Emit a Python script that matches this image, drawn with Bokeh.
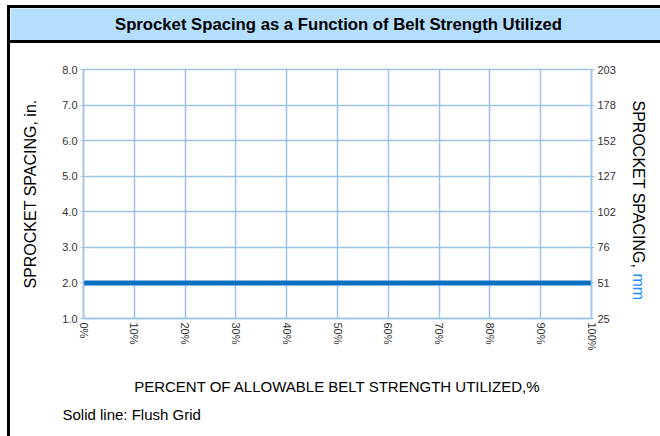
import math
from bokeh.plotting import figure
from bokeh.models import Range1d, FixedTicker, LinearAxis, Div
from bokeh.layouts import column, row
from bokeh.embed import file_html
from bokeh.resources import INLINE
from bokeh.core.properties import value

# ---- data ----
title_text = "Sprocket Spacing as a Function of Belt Strength Utilized"
x_ticks = [0, 10, 20, 30, 40, 50, 60, 70, 80, 90, 100]
x_labels = ["0%", "10%", "20%", "30%", "40%", "50%", "60%", "70%", "80%", "90%", "100%"]
y_ticks_in = [1, 2, 3, 4, 5, 6, 7, 8]
y_labels_in = ["1.0", "2.0", "3.0", "4.0", "5.0", "6.0", "7.0", "8.0"]
y_labels_mm = ["25", "51", "76", "102", "127", "152", "178", "203"]
flush_x = [0, 100]
flush_y = [2.0, 2.0]
x_title = "PERCENT OF ALLOWABLE BELT STRENGTH UTILIZED,%"
y_title_left = "SPROCKET SPACING, in."
y_title_right_a = "SPROCKET SPACING, "
y_title_right_b = "mm"
footnote = "Solid line: Flush Grid"

FONT = "Liberation Sans"
HEADER_BLUE = "#b4defe"
GRID_BLUE = "#9dc3e8"
LINE_BLUE = "#0a70c2"
MM_BLUE = "#1e8fff"


def blank(w, h, bg="white", y_range=None):
    f = figure(width=w, height=h, x_range=Range1d(0, w),
               y_range=y_range if y_range is not None else Range1d(0, h),
               toolbar_location=None, output_backend="svg",
               x_axis_location=None, y_axis_location=None, min_border=0,
               background_fill_color=bg, border_fill_color=bg,
               outline_line_color=None, margin=0)
    f.grid.visible = False
    return f


def bar(w, h):
    return Div(width=w, height=h, margin=0, styles={"background-color": "black"})


# ---- header ----
hdr = blank(650, 32, HEADER_BLUE)
hdr.text(x=[328], y=[16], text=[title_text], text_align="center", text_baseline="middle",
         text_font=value(FONT), text_font_style="bold", text_font_size="16.7px",
         text_color="black")
header = column(bar(653, 3), row(bar(3, 32), hdr, spacing=0), bar(653, 3),
                spacing=0, margin=(5, 0, 0, 7))

# ---- main chart ----
p = figure(width=611, height=360, x_range=Range1d(0, 100), y_range=Range1d(1, 8),
           toolbar_location=None, output_backend="svg",
           min_border_left=73, min_border_top=26, min_border_right=30, min_border_bottom=85,
           frame_width=508, frame_height=249, margin=0,
           background_fill_color="white", border_fill_color="white",
           outline_line_color=GRID_BLUE, outline_line_width=1.5)

p.line(flush_x, flush_y, line_color=LINE_BLUE, line_width=5)

xa = p.xaxis[0]
xa.ticker = FixedTicker(ticks=x_ticks)
xa.major_label_overrides = {t: l for t, l in zip(x_ticks, x_labels)}
xa.major_label_orientation = -math.pi / 2
xa.major_tick_out = 0
xa.major_tick_in = 0
xa.minor_tick_out = 0
xa.minor_tick_in = 0
xa.axis_line_color = GRID_BLUE
xa.axis_line_width = 1.5
xa.major_label_text_font = FONT
xa.major_label_text_font_size = "11px"
xa.major_label_text_color = "#333333"
xa.major_label_standoff = 4
xa.axis_label = x_title
xa.axis_label_text_font = FONT
xa.axis_label_text_font_style = "normal"
xa.axis_label_text_font_size = "15px"
xa.axis_label_text_color = "black"
xa.axis_label_standoff = 24

ya = p.yaxis[0]
ya.ticker = FixedTicker(ticks=y_ticks_in)
ya.major_label_overrides = {t: l for t, l in zip(y_ticks_in, y_labels_in)}
ya.major_tick_out = 3
ya.major_tick_in = 0
ya.minor_tick_out = 0
ya.minor_tick_in = 0
ya.major_tick_line_color = GRID_BLUE
ya.axis_line_color = GRID_BLUE
ya.axis_line_width = 1.5
ya.major_label_text_font = FONT
ya.major_label_text_font_size = "11px"
ya.major_label_text_color = "#333333"
ya.major_label_standoff = 3
ya.axis_label = y_title_left
ya.axis_label_text_font = FONT
ya.axis_label_text_font_style = "normal"
ya.axis_label_text_font_size = "16px"
ya.axis_label_text_color = "black"
ya.axis_label_standoff = 20

ra = LinearAxis(ticker=FixedTicker(ticks=y_ticks_in),
                major_label_overrides={t: l for t, l in zip(y_ticks_in, y_labels_mm)})
ra.major_tick_out = 3
ra.major_tick_in = 0
ra.minor_tick_out = 0
ra.minor_tick_in = 0
ra.major_tick_line_color = GRID_BLUE
ra.axis_line_color = GRID_BLUE
ra.axis_line_width = 1.5
ra.major_label_text_font = FONT
ra.major_label_text_font_size = "11px"
ra.major_label_text_color = "#333333"
ra.major_label_standoff = 3
p.add_layout(ra, "right")

p.xgrid.ticker = FixedTicker(ticks=x_ticks)
p.ygrid.ticker = FixedTicker(ticks=y_ticks_in)
p.grid.grid_line_color = GRID_BLUE
p.grid.grid_line_width = 1.5

# ---- right axis title (two colours), read top to bottom ----
# this panel's frame lines up with the chart frame (page y 69..318)
rfig = blank(39, 360, y_range=Range1d(318, 69))
rfig.text(x=[17], y=[100], text=[y_title_right_a], angle=-math.pi / 2,
          text_align="left", text_baseline="middle", text_font=value(FONT),
          text_font_size="16px", text_color="black")
rfig.text(x=[17], y=[273], text=[y_title_right_b], angle=-math.pi / 2,
          text_align="left", text_baseline="middle", text_font=value(FONT),
          text_font_size="16px", text_color=MM_BLUE)

# ---- footnote ----
foot = blank(650, 33)
foot.text(x=[52], y=[22], text=[footnote], text_align="left", text_baseline="middle",
          text_font=value(FONT), text_font_size="15px", text_color="black")

body = row(bar(3, 393), column(row(p, rfig, spacing=0), foot, spacing=0),
           spacing=0, margin=(0, 0, 0, 7))

layout = column(header, body, spacing=0)

open("out.html", "w").write(file_html(layout, INLINE))
